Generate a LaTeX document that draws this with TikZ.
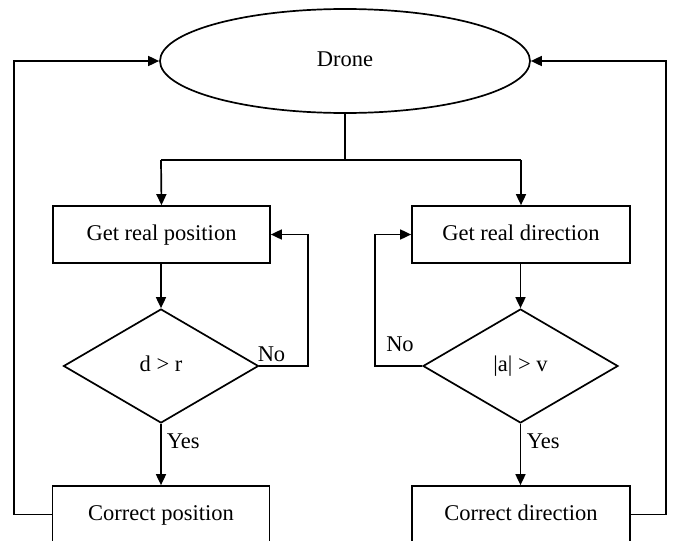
\documentclass[tikz,border=0pt]{standalone}
\usepackage{fontspec}
\setmainfont{Liberation Serif}
\usetikzlibrary{shapes.geometric,arrows.meta}
\begin{document}
\begin{tikzpicture}[x=1pt,y=-1pt,
  line width=1.7pt,
  every node/.style={font=\fontsize{22.5}{27}\selectfont},
  procbox/.style={draw,rectangle,minimum width=217pt,minimum height=57pt,inner sep=0pt,text height=16pt,text depth=5pt},
  decision/.style={draw,diamond,minimum width=195pt,minimum height=114pt,inner sep=0pt,text height=16pt,text depth=5pt},
  startnode/.style={draw,ellipse,minimum width=370pt,minimum height=104pt,inner sep=0pt,text height=16pt,text depth=5pt},
  lbl/.style={inner sep=0pt},
  arr/.style={-{Triangle[length=11pt,width=10pt]}}
]
\useasboundingbox (0,0) rectangle (673,541);
\clip (0,0) rectangle (673,541);

\node[startnode] (drone) at (345,61) {Drone};
\node[procbox] (getpos) at (161.5,234.5) {Get real position};
\node[procbox,minimum width=218pt] (getdir) at (521,234.5) {Get real direction};
\node[decision] (dr) at (161,366) {d > r};
\node[decision] (av) at (520.5,366) {|a| > v};
\node[procbox] (corpos) at (161,514.5) {Correct position};
\node[procbox,minimum width=218pt] (cordir) at (521,514.5) {Correct direction};

\coordinate (split) at (345,160);
\coordinate (lsplit) at (161,160);
\coordinate (rsplit) at (521,160);
\coordinate (lfb) at (14,0);
\coordinate (rfb) at (666,0);
\coordinate (lno) at (308,0);
\coordinate (rno) at (375,0);

% split from drone
\draw (drone.south) -- (split);
\draw (lsplit) -- (rsplit);
\draw[arr] (lsplit) -- (getpos.north);
\draw[arr] (rsplit) -- (getdir.north);

% box to decision
\draw[arr] (getpos.south -| dr.north) -- (dr.north);
\draw[arr] (getdir.south -| av.north) -- (av.north);

% yes
\draw[arr] (dr.south) -- (corpos.north -| dr.south);
\draw[arr] (av.south) -- (cordir.north -| av.south);
\node[lbl,anchor=west] (yes1) at (166,441) {Yes};
\node[lbl,anchor=west] (yes2) at (526,441) {Yes};

% no loops
\draw[arr] (dr.east) -- (dr.east -| lno) -- (getpos.east -| lno) -- (getpos.east);
\draw[arr] (av.west) -- (av.west -| rno) -- (getdir.west -| rno) -- (getdir.west);
\node[lbl] (no1) at (271.5,354) {No};
\node[lbl] (no2) at (400,344) {No};

% feedback
\draw[arr] (corpos.west) -- (corpos.west -| lfb) -- (drone.west -| lfb) -- (drone.west);
\draw[arr] (cordir.east) -- (cordir.east -| rfb) -- (drone.east -| rfb) -- (drone.east);
\end{tikzpicture}
\end{document}
